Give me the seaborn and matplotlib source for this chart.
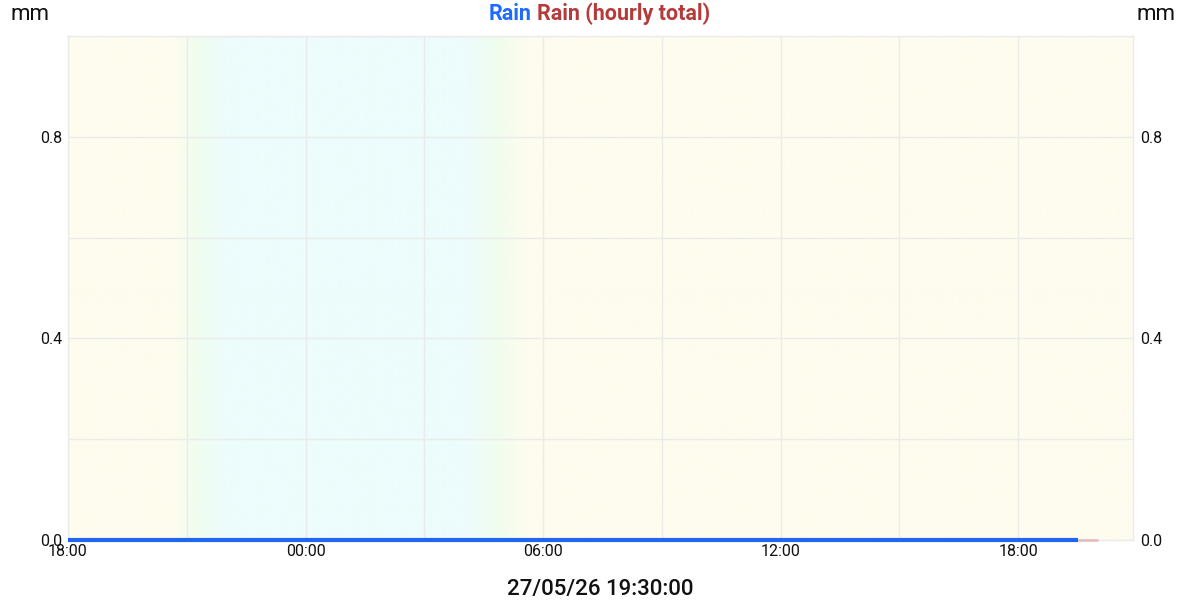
import numpy as np
import pandas as pd
import matplotlib
matplotlib.use("Agg")
import matplotlib.pyplot as plt
import matplotlib.dates as mdates
from matplotlib.colors import LinearSegmentedColormap
import seaborn as sns

# data
rain_times = ["2026-05-26 18:00", "2026-05-27 19:30"]
rain_mm = [0.0, 0.0]
hourly_times = ["2026-05-27 19:30", "2026-05-27 20:00"]
hourly_mm = [0.0, 0.0]
x_start = "2026-05-26 18:00"
x_end = "2026-05-27 20:54"
y_ticks = [0.0, 0.4, 0.8]
stamp = "27/05/26 19:30:00"

sns.set_theme(style="white")
plt.rcParams["font.family"] = ["Roboto", "DejaVu Sans"]

fig = plt.figure(figsize=(12, 6), dpi=100)
ax = fig.add_axes([68 / 1200, 60 / 600, 1065 / 1200, 504 / 600])

t0 = mdates.date2num(pd.Timestamp(x_start))
t1 = mdates.date2num(pd.Timestamp(x_end))

# day / night background shading
day = "#fefcee"
green = "#f0fdee"
night = "#edfcfc"
span = t1 - t0
def pos(ts):
    return (mdates.date2num(pd.Timestamp(ts)) - t0) / span
stops = [
    (0.0, day),
    (pos("2026-05-26 20:40"), day),
    (pos("2026-05-26 21:10"), green),
    (pos("2026-05-26 21:50"), night),
    (pos("2026-05-27 04:05"), night),
    (pos("2026-05-27 04:50"), green),
    (pos("2026-05-27 05:35"), day),
    (1.0, day),
]
cmap = LinearSegmentedColormap.from_list("daynight", stops)
grad = np.linspace(0, 1, 1200).reshape(1, -1)
ax.imshow(grad, cmap=cmap, aspect="auto", extent=[t0, t1, 0, 1], zorder=0)

rain = pd.DataFrame({"time": pd.to_datetime(rain_times), "mm": rain_mm})
hourly = pd.DataFrame({"time": pd.to_datetime(hourly_times), "mm": hourly_mm})
sns.lineplot(data=hourly, x="time", y="mm", ax=ax, color="#d88a8a", alpha=0.5,
             linewidth=2, zorder=3, clip_on=False)
sns.lineplot(data=rain, x="time", y="mm", ax=ax, color="#1f66f0",
             linewidth=3, zorder=4, solid_capstyle="butt", clip_on=False)

ax.set_xlim(t0, t1)
ax.set_ylim(0, 1.0)
ax.set_xlabel("")
ax.set_ylabel("")

ax.xaxis.set_major_locator(mdates.HourLocator(byhour=[0, 6, 12, 18]))
ax.xaxis.set_minor_locator(mdates.HourLocator(byhour=[3, 9, 15, 21]))
ax.xaxis.set_major_formatter(mdates.DateFormatter("%H:%M"))
ax.set_yticks(y_ticks)
ax.set_yticks([0.2, 0.6, 1.0], minor=True)
ax.set_yticklabels([f"{v:.1f}" for v in y_ticks])

ax.grid(True, which="both", color="#ebebeb", linewidth=1.0, zorder=1)
ax.set_axisbelow(False)
for s in ax.spines.values():
    s.set_color("#ebebeb")
    s.set_linewidth(1.0)
ax.tick_params(axis="both", which="both", length=0, labelsize=11.5,
               labelcolor="#111111")
ax.tick_params(axis="x", pad=3)
ax.tick_params(axis="y", pad=4)

ax2 = ax.twinx()
ax2.set_ylim(ax.get_ylim())
ax2.set_yticks(y_ticks)
ax2.set_yticklabels([f"{v:.1f}" for v in y_ticks])
ax2.tick_params(axis="y", length=0, labelsize=11.5, labelcolor="#111111", pad=5)
ax2.grid(False)
for s in ax2.spines.values():
    s.set_visible(False)

# units and title
fig.text(10 / 1200, 1 - 15 / 600, "mm", fontsize=16, color="#111111",
         ha="left", va="center")
fig.text(1137 / 1200, 1 - 15 / 600, "mm", fontsize=16, color="#111111",
         ha="left", va="center")
fig.text(531 / 1200, 1 - 14 / 600, "Rain", fontsize=15.5, fontweight="bold",
         color="#1f6bff", ha="right", va="center")
fig.text(537 / 1200, 1 - 14 / 600, "Rain (hourly total)", fontsize=15.5,
         fontweight="bold", color="#b53b3b", ha="left", va="center")
fig.text(0.5, 1 - 590 / 600, stamp, fontsize=16, fontweight="medium",
         color="#111111", ha="center", va="center")

fig.savefig("out.png", dpi=100)
